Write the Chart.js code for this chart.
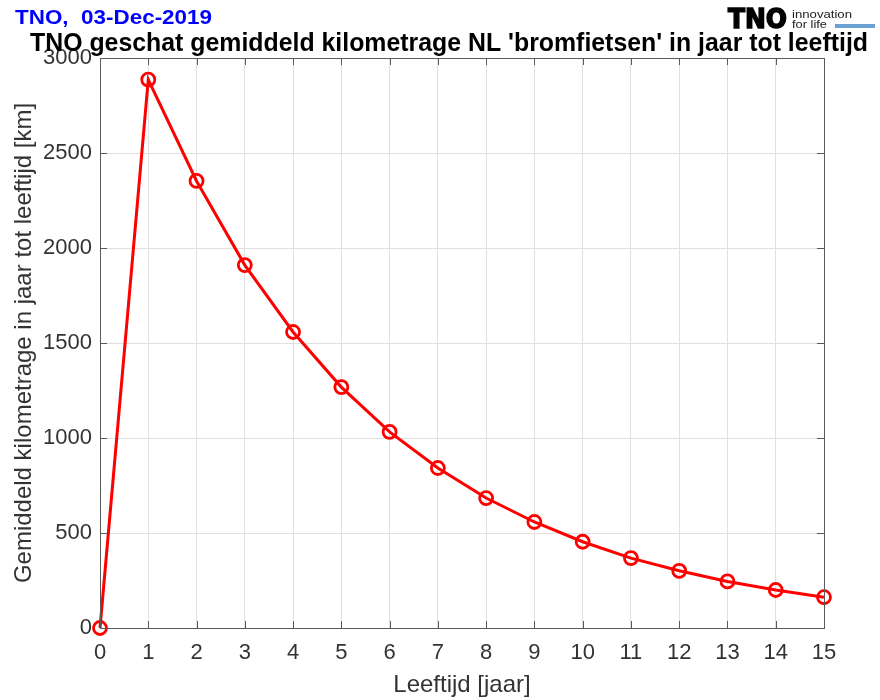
<!DOCTYPE html>
<html>
<head>
<meta charset="utf-8">
<script src="https://cdn.jsdelivr.net/npm/chart.js@4.4.1/dist/chart.umd.min.js"></script>
<style>
  html, body { margin: 0; padding: 0; background: #fff; }
  #wrap { width: 880px; height: 700px; }
</style>
</head>
<body>
<div id="wrap"><canvas id="chart" width="880" height="700"></canvas></div>
<script>
// leeftijd in jaren en geschat kilometrage
const ages = [0, 1, 2, 3, 4, 5, 6, 7, 8, 9, 10, 11, 12, 13, 14, 15];
const km = [0, 2886, 2353, 1910, 1558, 1268, 1032, 842, 684, 558, 454, 368, 301, 245, 200, 162];
const yTicks = [0, 500, 1000, 1500, 2000, 2500, 3000];

const titleText = "TNO geschat gemiddeld kilometrage NL 'bromfietsen' in jaar tot leeftijd";
const dateText = 'TNO,  03-Dec-2019';
const FONT = '"Liberation Sans", Arial, sans-serif';
const AXIS = '#5a5a5a';
const TXT = '#333';

// tekst binnen een breedte persen (figuur is horizontaal wat gecomprimeerd)
function fitText(ctx, text, x, y, maxW) {
    const w = ctx.measureText(text).width;
    const s = maxW / w;
    ctx.save();
    ctx.translate(x, y);
    ctx.scale(s, 1);
    ctx.textAlign = 'left';
    ctx.fillText(text, 0, 0);
    ctx.restore();
}

const headerPlugin = {
    id: 'header',
    afterDraw(chart) {
        const ctx = chart.ctx;
        const a = chart.chartArea;
        ctx.save();
        ctx.textBaseline = 'alphabetic';
        // datum
        ctx.fillStyle = '#0000ff';
        ctx.font = 'bold 21px ' + FONT;
        fitText(ctx, dateText, 15, 24, 197);
        // titel
        ctx.fillStyle = '#000';
        ctx.font = 'bold 25px ' + FONT;
        fitText(ctx, titleText, 30, 51, 838);
        // logo
        ctx.font = 'bold 26px "DejaVu Sans", ' + FONT;
        ctx.lineWidth = 1.5;
        ctx.strokeStyle = '#000';
        ctx.save();
        const lw = ctx.measureText('TNO').width;
        ctx.translate(728, 28);
        ctx.scale(59 / lw, 1);
        ctx.fillText('TNO', 0, 0);
        ctx.strokeText('TNO', 0, 0);
        ctx.restore();
        ctx.font = '11px ' + FONT;
        ctx.fillStyle = '#222';
        fitText(ctx, 'innovation', 792, 18, 60);
        fitText(ctx, 'for life', 792, 28, 35);
        ctx.fillStyle = '#6aa2d4';
        ctx.fillRect(835, 24, 40, 4);

        // ticks naar binnen, ook boven en rechts
        const xs = chart.scales.x, ys = chart.scales.y;
        ctx.strokeStyle = AXIS;
        ctx.lineWidth = 1;
        ctx.beginPath();
        xs.ticks.forEach((t, i) => {
            const px = Math.round(xs.getPixelForTick(i)) + 0.5;
            ctx.moveTo(px, a.bottom); ctx.lineTo(px, a.bottom - 7);
            ctx.moveTo(px, a.top); ctx.lineTo(px, a.top + 7);
        });
        ys.ticks.forEach((t, i) => {
            const py = Math.round(ys.getPixelForTick(i)) + 0.5;
            ctx.moveTo(a.left, py); ctx.lineTo(a.left + 7, py);
            ctx.moveTo(a.right, py); ctx.lineTo(a.right - 7, py);
        });
        ctx.stroke();
        ctx.strokeRect(Math.round(a.left) + 0.5, Math.round(a.top) + 0.5,
            Math.round(a.right - a.left), Math.round(a.bottom - a.top));
        ctx.restore();
    }
};

new Chart(document.getElementById('chart'), {
    type: 'line',
    data: {
        datasets: [{
            data: ages.map((a, i) => ({ x: a, y: km[i] })),
            borderColor: '#ff0000',
            borderWidth: 3,
            backgroundColor: 'rgba(0,0,0,0)',
            pointStyle: 'circle',
            pointRadius: 6.5,
            pointBorderWidth: 2.8,
            pointBorderColor: '#ff0000',
            pointBackgroundColor: 'rgba(0,0,0,0)',
            tension: 0,
            clip: false
        }]
    },
    options: {
        responsive: false,
        animation: false,
        events: [],
        layout: { padding: { top: 58, right: 56, left: 0, bottom: 0 } },
        plugins: { legend: { display: false }, tooltip: { enabled: false }, title: { display: false } },
        scales: {
            x: {
                type: 'linear',
                min: 0, max: 15,
                ticks: { stepSize: 1, color: TXT, font: { family: FONT, size: 22 }, padding: 12, maxRotation: 0 },
                grid: { color: '#e0e0e0', drawTicks: false },
                border: { display: false },
                title: { display: true, text: 'Leeftijd [jaar]', color: TXT, font: { family: FONT, size: 24 }, padding: { top: 0, bottom: 0 } },
                afterFit(s) { s.height = 72; }
            },
            y: {
                min: 0, max: 3000,
                afterBuildTicks(s) { s.ticks = yTicks.map(v => ({ value: v })); },
                ticks: { color: TXT, font: { family: FONT, size: 22 }, padding: 8, callback: v => String(v) },
                grid: { color: '#e0e0e0', drawTicks: false },
                border: { display: false },
                title: { display: true, text: 'Gemiddeld kilometrage in jaar tot leeftijd [km]', color: TXT, font: { family: FONT, size: 24 }, padding: { top: 10, bottom: 0 } },
                afterFit(s) { s.width = 100; }
            }
        }
    },
    plugins: [headerPlugin]
});
</script>
</body>
</html>
